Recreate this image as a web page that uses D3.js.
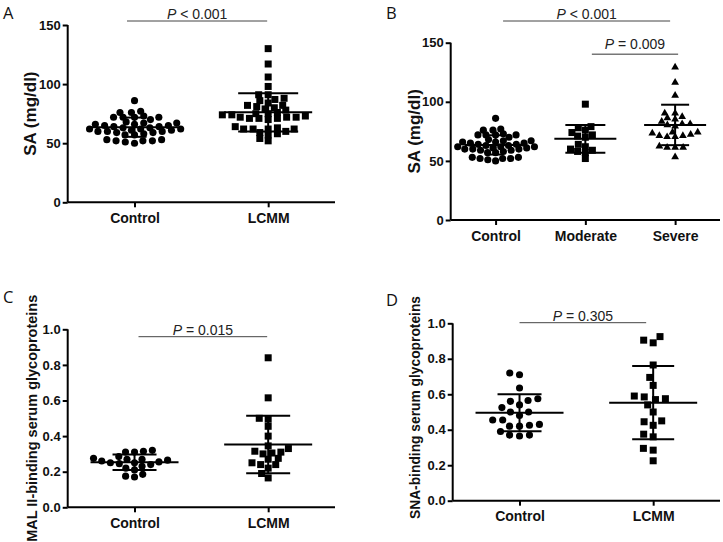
<!DOCTYPE html>
<html><head><meta charset="utf-8">
<script src="https://cdn.jsdelivr.net/npm/d3@7"></script>
<style>body{margin:0;background:#fff} svg{display:block}</style>
</head><body>
<svg id="c" width="723" height="542"></svg>
<script>
// ---------- data ----------
const saCategoriesA = ["Control", "LCMM"];
const saCategoriesB = ["Control", "Moderate", "Severe"];
const glyCategories = ["Control", "LCMM"];

const saControl = [86, 77, 76, 76, 73, 72, 72, 72, 72, 70, 68, 67, 67, 66, 66, 65, 65, 64, 64, 63, 63,
  62, 62, 62, 61, 61, 60, 60, 60, 59, 59, 58, 57, 57, 53, 53, 52, 52, 52, 51, 50];
const saModerate = [98, 79, 78, 76, 74, 72, 71, 70, 64, 62, 60, 59, 58, 57, 52];
const saSevere = [130, 117, 106, 91, 91, 88, 87, 86, 84, 82, 82, 81, 80, 75, 75, 74, 73, 72, 72,
  71, 71, 63, 62, 62, 62, 54];
const saLCMM = saModerate.concat(saSevere);

const malControl = [0.32, 0.315, 0.31, 0.31, 0.285, 0.275, 0.27, 0.27, 0.265, 0.26, 0.255, 0.25, 0.25,
  0.245, 0.24, 0.23, 0.22, 0.21, 0.185, 0.175, 0.17];
const malLCMM = [0.84, 0.615, 0.50, 0.495, 0.455, 0.40, 0.345, 0.33, 0.315, 0.31, 0.305, 0.30, 0.275,
  0.27, 0.25, 0.24, 0.24, 0.22, 0.19, 0.165];

const snaControl = [0.72, 0.71, 0.635, 0.575, 0.565, 0.56, 0.54, 0.525, 0.50, 0.50, 0.48, 0.455, 0.455,
  0.43, 0.425, 0.42, 0.42, 0.39, 0.37, 0.37, 0.365];
const snaLCMM = [0.925, 0.905, 0.89, 0.765, 0.695, 0.65, 0.59, 0.585, 0.575, 0.57, 0.54, 0.50, 0.45,
  0.445, 0.425, 0.375, 0.36, 0.295, 0.285, 0.225];

const saTicks = [0, 50, 100, 150];
const glyTicks = [0, 0.2, 0.4, 0.6, 0.8, 1.0];

const pA = [{ from: "Control", to: "LCMM", op: "<", p: "0.001" }];
const pB = [{ from: "Control", to: "Severe", op: "<", p: "0.001" },
            { from: "Moderate", to: "Severe", op: "=", p: "0.009" }];
const pC = [{ from: "Control", to: "LCMM", op: "=", p: "0.015" }];
const pD = [{ from: "Control", to: "LCMM", op: "=", p: "0.305" }];

// ---------- layout / style ----------
const panels = [
  { letter: "A", lx: 3, ly: 19, x0: 67.7, x1: 335, yTop: 25, yBot: 202.3, domain: [0, 150],
    ticks: saTicks, fmt: d3.format("d"), cats: saCategoriesA, series: [saControl, saLCMM],
    shapes: ["circle", "square"], ylabel: "SA (mg/dl)", ylx: 36, lsize: 17, lyoff: 0,
    meanHalf: 44, capHalf: [12, 30], dx: 9.5, dy: 5,
    pv: pA, pstyle: [{ ly: 21, d0: -7.5, d1: -1, ty: 18.5, col: "#444", w: 1 }] },
  { letter: "B", lx: 386, ly: 19, x0: 450.7, x1: 720, yTop: 42.7, yBot: 220, domain: [0, 150],
    ticks: saTicks, fmt: d3.format("d"), cats: saCategoriesB, series: [saControl, saModerate, saSevere],
    shapes: ["circle", "square", "triangle"], ylabel: "SA (mg/dl)", ylx: 420, lsize: 17, lyoff: 0,
    meanHalf: 31, capHalf: [8, 20, 14], dx: 8, dy: 5,
    pv: pB, pstyle: [{ ly: 21, d0: 7.5, d1: -5, ty: 18.5, col: "#444", w: 1 },
                     { ly: 54.3, d0: 6.5, d1: 3, ty: 49, col: "#777", w: 1.5 }] },
  { letter: "C", lx: 3, ly: 303, x0: 67.7, x1: 335, yTop: 329.3, yBot: 507.3, domain: [0, 1],
    ticks: glyTicks, fmt: d3.format(".1f"), cats: glyCategories, series: [malControl, malLCMM],
    shapes: ["circle", "square"], ylabel: "MAL II-binding serum glycoproteins", ylx: 37, lsize: 14.5, lyoff: 0,
    meanHalf: 44, capHalf: [22, 22], dx: 9, dy: 6.5,
    pv: pC, pstyle: [{ ly: 336.7, d0: 4, d1: -1, ty: 334.5, col: "#444", w: 1 }] },
  { letter: "D", lx: 386, ly: 306, x0: 452.7, x1: 720, yTop: 323.3, yBot: 500.7, domain: [0, 1],
    ticks: glyTicks, fmt: d3.format(".1f"), cats: glyCategories, series: [snaControl, snaLCMM],
    shapes: ["circle", "square"], ylabel: "SNA-binding serum glycoproteins", ylx: 420, lsize: 13.8, lyoff: -4.5,
    meanHalf: 44, capHalf: [22, 21], dx: 10, dy: 8.5,
    pv: pD, pstyle: [{ ly: 322.7, d0: 0, d1: -7, ty: 320.5, col: "#444", w: 1 }] }
];

const FONT = "'Liberation Sans', Arial, sans-serif";
const svg = d3.select("#c");
svg.append("rect").attr("width", 723).attr("height", 542).attr("fill", "#fff");

const symType = { circle: d3.symbolCircle, square: d3.symbolSquare, triangle: d3.symbolTriangle };
const symSize = { circle: 40, square: 49, triangle: 26 };

// beeswarm layout: each point takes the free horizontal slot nearest its category,
// with an elliptical exclusion zone (rx horizontally, ry vertically)
function dodge(vals, y, rx, ry) {
  const idx = d3.range(vals.length).sort((a, b) => vals[a] - vals[b]);
  const placed = [];
  const xs = new Array(vals.length);
  const hit = (p, c, yi) => ((p.x - c) / rx) ** 2 + ((p.y - yi) / ry) ** 2 < 1 - 1e-6;
  for (const i of idx) {
    const yi = y(vals[i]);
    const near = placed.filter(p => Math.abs(p.y - yi) < ry);
    const cands = [0];
    for (const p of near) {
      const w = rx * Math.sqrt(1 - ((p.y - yi) / ry) ** 2);
      cands.push(p.x + w, p.x - w);
    }
    cands.sort((a, b) => Math.abs(a) - Math.abs(b) || a - b);
    let best = 0;
    for (const c of cands) {
      if (!near.some(p => hit(p, c, yi))) { best = c; break; }
    }
    placed.push({ x: best, y: yi });
    xs[i] = best;
  }
  return xs;
}

for (const P of panels) {
  const g = svg.append("g");
  const x = d3.scalePoint().domain(P.cats).range([P.x0, P.x1]).padding(0.5);
  const y = d3.scaleLinear().domain(P.domain).range([P.yBot, P.yTop]);

  g.append("text").attr("x", P.lx).attr("y", P.ly).text(P.letter)
    .attr("font-family", "'Open Sans', 'DejaVu Sans', sans-serif").attr("font-size", 16.5)
    .attr("font-weight", 400).attr("fill", "#111");

  const ya = g.append("g").attr("transform", `translate(${P.x0},0)`)
    .call(d3.axisLeft(y).tickValues(P.ticks).tickFormat(P.fmt).tickSize(5).tickPadding(2));
  ya.select(".domain").attr("stroke", "#000").attr("stroke-width", 2).attr("d", `M0,${P.yBot}V${P.yTop}`);
  ya.selectAll(".tick line").attr("stroke", "#000").attr("stroke-width", 2);
  ya.selectAll(".tick text").attr("font-family", FONT).attr("font-size", 13).attr("font-weight", "bold").attr("fill", "#111");

  const xa = g.append("g").attr("transform", `translate(0,${P.yBot})`)
    .call(d3.axisBottom(x).tickSize(5).tickPadding(8));
  xa.select(".domain").attr("stroke", "#000").attr("stroke-width", 2).attr("d", `M${P.x0},0H${P.x1}`);
  xa.selectAll(".tick line").attr("stroke", "#000").attr("stroke-width", 2);
  xa.selectAll(".tick text").attr("font-family", FONT).attr("font-size", 14).attr("font-weight", "bold")
    .attr("fill", "#111").attr("dy", null).attr("y", 20.5);

  const ymid = (P.yTop + P.yBot) / 2 + P.lyoff;
  g.append("text").attr("transform", `translate(${P.ylx},${ymid}) rotate(-90)`)
    .attr("text-anchor", "middle").attr("font-family", FONT).attr("font-weight", "bold")
    .attr("font-size", P.lsize).attr("fill", "#111").text(P.ylabel);

  P.series.forEach((vals, k) => {
    const cx = x(P.cats[k]);
    const offs = dodge(vals, y, P.dx, P.dy);
    const sym = d3.symbol().type(symType[P.shapes[k]]).size(symSize[P.shapes[k]]);
    g.append("g").selectAll("path").data(vals).join("path")
      .attr("d", sym)
      .attr("transform", (v, i) => `translate(${cx + offs[i]},${y(v) + (P.shapes[k] === "triangle" ? 0.8 : 0)})`)
      .attr("fill", "#000");
  });

  P.series.forEach((vals, k) => {
    const cx = x(P.cats[k]);
    const m = d3.mean(vals), s = d3.deviation(vals);
    const eb = g.append("g").attr("stroke", "#000").attr("stroke-width", 2);
    eb.append("line").attr("x1", cx - P.meanHalf).attr("x2", cx + P.meanHalf).attr("y1", y(m)).attr("y2", y(m));
    eb.append("line").attr("x1", cx).attr("x2", cx).attr("y1", y(m - s)).attr("y2", y(m + s));
    [m - s, m + s].forEach(v => eb.append("line").attr("x1", cx - P.capHalf[k]).attr("x2", cx + P.capHalf[k])
      .attr("y1", y(v)).attr("y2", y(v)));
  });

  P.pv.forEach((a, j) => {
    const st = P.pstyle[j];
    const xa0 = x(a.from) + st.d0, xa1 = x(a.to) + st.d1;
    g.append("line").attr("x1", xa0).attr("x2", xa1).attr("y1", st.ly).attr("y2", st.ly)
      .attr("stroke", st.col).attr("stroke-width", st.w);
    const t = g.append("text").attr("x", (xa0 + xa1) / 2).attr("y", st.ty).attr("text-anchor", "middle")
      .attr("font-family", FONT).attr("font-size", 14).attr("fill", "#222");
    t.append("tspan").attr("font-style", "italic").text("P");
    t.append("tspan").text(` ${a.op} ${a.p}`);
  });
}
</script>
</body></html>
